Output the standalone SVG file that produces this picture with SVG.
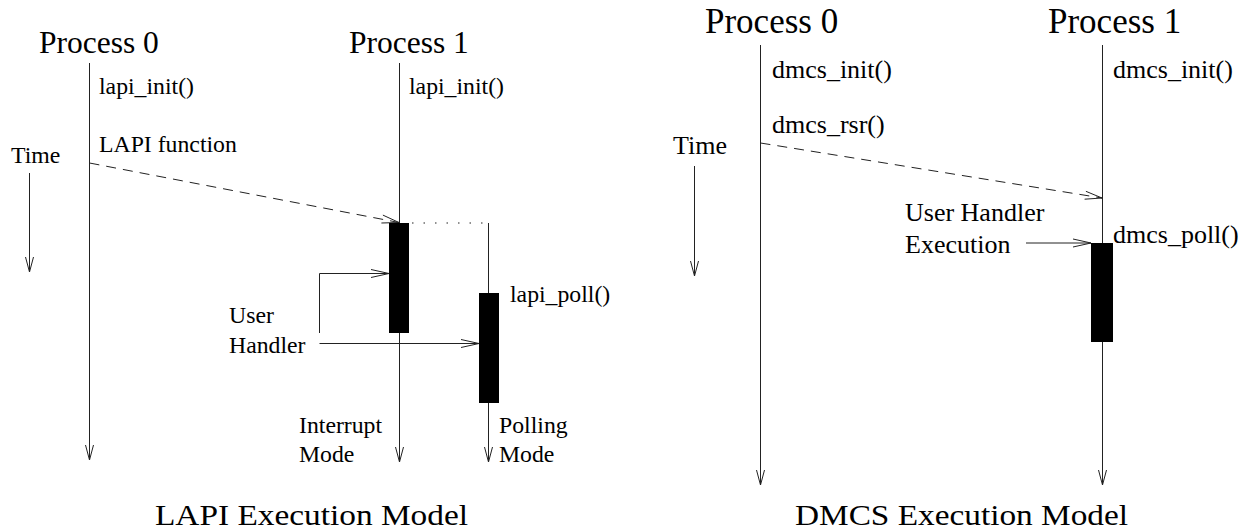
<svg xmlns="http://www.w3.org/2000/svg" width="1257" height="531" viewBox="0 0 1257 531">
<g id="connectors" fill="none" stroke="#222" stroke-width="1">
<path d="M29.5,173 V272 M25.5,257 L29.5,272 L33.5,257"/>
<path d="M89.5,63 V460 M85.5,445 L89.5,460 L93.5,445"/>
<path d="M399.5,63 V462 M395.5,447 L399.5,462 L403.5,447"/>
<path stroke-dasharray="10 7" d="M89.5,163 L399,222.5"/>
<path d="M381.4,223 L399,222.5 L382.9,215.1"/>
<path stroke-dasharray="1.5 10" stroke-width="1.2" d="M412,223 H488"/>
<path d="M488.5,223 V462 M484.5,447 L488.5,462 L492.5,447"/>
<path d="M319.5,333 V273.5 H389 M371,269.5 L389,273.5 L371,277.5"/>
<path d="M319.5,343.5 H479 M461,339.5 L479,343.5 L461,347.5"/>
<path d="M694.5,166 V276 M690.5,261 L694.5,276 L698.5,261"/>
<path d="M760.5,45 V485 M756.5,470 L760.5,485 L764.5,470"/>
<path d="M1102.5,45 V485 M1098.5,470 L1102.5,485 L1106.5,470"/>
<path stroke-dasharray="10 7" d="M760.5,143 L1102,198"/>
<path d="M1084.6,199.2 L1102,198 L1085.9,191.3"/>
<path d="M1026,243 H1091 M1073,239 L1091,243 L1073,247"/>
</g>

<g id="lapi-title">
<text font-family="Times New Roman" font-size="31.5" x="39" y="53">Process 0</text>
<text font-family="Times New Roman" font-size="31.5" x="349" y="53">Process 1</text>
<text font-family="Times New Roman" font-size="23.75" x="11" y="163">Time</text>
</g>
<g id="lapi-p0">
<text font-family="Times New Roman" font-size="23.75" x="99" y="94">lapi_init()</text>
<text font-family="Times New Roman" font-size="23.75" x="99" y="152">LAPI function</text>
</g>
<g id="lapi-p1">
<text font-family="Times New Roman" font-size="23.75" x="409" y="94">lapi_init()</text>
<rect x="389" y="223" width="20" height="110" fill="#000"/>
<text font-family="Times New Roman" font-size="23.75" x="299" y="433">Interrupt</text>
<text font-family="Times New Roman" font-size="23.75" x="299" y="462">Mode</text>
</g>
<g id="lapi-poll">
<rect x="479" y="293" width="20" height="110" fill="#000"/>
<text font-family="Times New Roman" font-size="23.75" x="510" y="302">lapi_poll()</text>
<text font-family="Times New Roman" font-size="23.75" x="499" y="433">Polling</text>
<text font-family="Times New Roman" font-size="23.75" x="499" y="462">Mode</text>
</g>
<g id="lapi-handler">
<text font-family="Times New Roman" font-size="23.75" x="229" y="323">User</text>
<text font-family="Times New Roman" font-size="23.75" x="229" y="353">Handler</text>
</g>
<g id="lapi-caption">
<text font-family="Times New Roman" font-size="30" x="155" y="525" textLength="313" lengthAdjust="spacingAndGlyphs">LAPI Execution Model</text>
</g>

<g id="dmcs-title">
<text font-family="Times New Roman" font-size="35" x="705" y="33">Process 0</text>
<text font-family="Times New Roman" font-size="35" x="1048" y="33">Process 1</text>
<text font-family="Times New Roman" font-size="26" x="673" y="154">Time</text>
</g>
<g id="dmcs-p0">
<text font-family="Times New Roman" font-size="26" x="772" y="78">dmcs_init()</text>
<text font-family="Times New Roman" font-size="26" x="772" y="133">dmcs_rsr()</text>
</g>
<g id="dmcs-p1">
<text font-family="Times New Roman" font-size="26" x="1113" y="78">dmcs_init()</text>
<rect x="1091" y="243" width="22" height="99" fill="#000"/>
<text font-family="Times New Roman" font-size="26" x="1113" y="243">dmcs_poll()</text>
</g>
<g id="dmcs-handler">
<text font-family="Times New Roman" font-size="26" x="905" y="221">User Handler</text>
<text font-family="Times New Roman" font-size="26" x="905" y="253">Execution</text>
</g>
<g id="dmcs-caption">
<text font-family="Times New Roman" font-size="30" x="795" y="525" textLength="333" lengthAdjust="spacingAndGlyphs">DMCS Execution Model</text>
</g>
</svg>
